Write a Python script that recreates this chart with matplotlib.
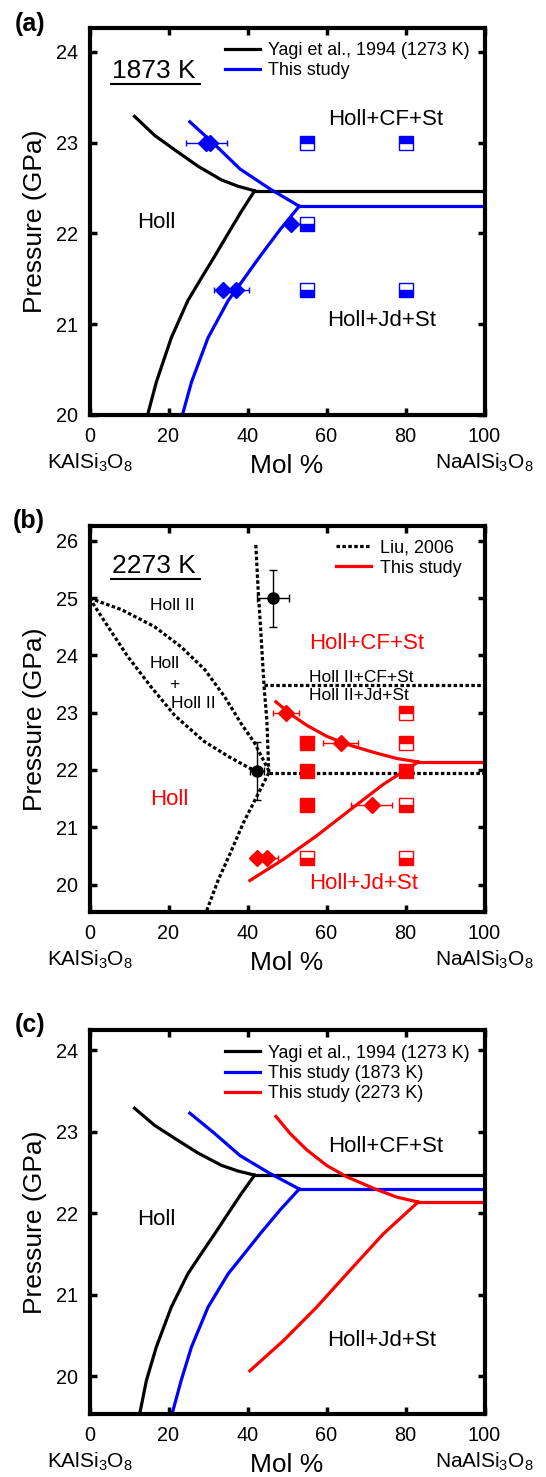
import matplotlib
matplotlib.use('Agg')
import matplotlib.pyplot as plt

plt.rcParams['font.family'] = ['Liberation Sans', 'DejaVu Sans']
plt.rcParams['mathtext.fontset'] = 'custom'
plt.rcParams['mathtext.rm'] = 'Liberation Sans'
plt.rcParams['mathtext.it'] = 'Liberation Sans:italic'

BLUE = '#0000ff'
RED = '#ff0000'

# Yagi et al., 1994 (1273 K)
yagi_up_x = [11.4, 16.5, 21.6, 27.5, 33.4, 37.6, 41.8]
yagi_up_p = [23.29, 23.08, 22.92, 22.74, 22.59, 22.52, 22.47]
yagi_flat_x = [41.8, 100]
yagi_flat_p = [22.47, 22.47]
yagi_lo_x = [41.8, 38.4, 35.1, 31.7, 28.2, 24.9, 20.7, 16.9, 14.4, 12.7]
yagi_lo_p = [22.47, 22.24, 22.0, 21.75, 21.5, 21.26, 20.85, 20.36, 19.95, 19.54]

# this study, 1873 K
b_up_x = [25.4, 31.7, 38.1, 45.7, 53.1]
b_up_p = [23.23, 22.98, 22.71, 22.49, 22.30]
b_flat_x = [53.1, 100]
b_flat_p = [22.30, 22.30]
b_lo_x = [53.1, 48.2, 43.2, 38.1, 35.1, 30.0, 25.8, 23.2, 20.9]
b_lo_p = [22.30, 22.04, 21.75, 21.44, 21.26, 20.85, 20.36, 19.95, 19.54]

# this study, 2273 K
r_up_x = [47.2, 50.8, 55, 60, 65.1, 71.8, 77.8, 83.2]
r_up_p = [23.19, 22.98, 22.78, 22.59, 22.45, 22.31, 22.20, 22.14]
r_flat_x = [83.2, 100]
r_flat_p = [22.14, 22.14]
r_lo_x = [83.2, 74.4, 65.9, 57.5, 49.1, 40.6]
r_lo_p = [22.14, 21.75, 21.30, 20.85, 20.44, 20.07]

# Liu, 2006
liu_lens_up_x = [0, 8.1, 16.5, 23.2, 29.2, 34.2, 38.4, 41.8, 44.4, 45.3]
liu_lens_up_p = [25.0, 24.80, 24.50, 24.15, 23.75, 23.28, 22.81, 22.47, 22.12, 22.0]
liu_lens_lo_x = [0, 4.7, 9.7, 15.6, 21.6, 29, 35.3, 40.6, 42.5]
liu_lens_lo_p = [25.0, 24.5, 23.98, 23.45, 22.95, 22.5, 22.23, 22.03, 22.0]
liu_vert_x = [42.1, 42.7, 43.5, 44.2, 44.9, 45.4]
liu_vert_p = [25.93, 25.15, 24.27, 23.45, 22.87, 21.95]
liu_h1_x = [44.2, 100]
liu_h1_p = [23.48, 23.48]
liu_h2_x = [45.4, 100]
liu_h2_p = [21.95, 21.95]
liu_lo_x = [45.4, 42.3, 38.9, 35.6, 32.6, 29.7]
liu_lo_p = [21.95, 21.53, 21.07, 20.54, 20.08, 19.55]

# panel (a) experiments
a_dia_x = [29.6, 30.6, 51.1, 33.8, 37.2]
a_dia_p = [23.0, 23.0, 22.1, 21.38, 21.38]
a_dia_err = [5.1, 0, 0, 2.3, 3.1]
a_sq_top_x = [55, 80]
a_sq_top_p = [23.0, 23.0]
a_sq_bot_x = [55, 55, 80]
a_sq_bot_p = [22.1, 21.38, 21.38]

# panel (b) experiments
b_dia_x = [49.7, 63.6, 71.4, 42.5, 44.9]
b_dia_p = [23.0, 22.47, 21.39, 20.47, 20.47]
b_dia_err = [3.3, 4.4, 5.1, 1.6, 2.9]
b_sq_full_x = [55, 55, 55, 80]
b_sq_full_p = [22.47, 21.98, 21.39, 21.98]
b_sq_top_x = [80, 80]
b_sq_top_p = [23.0, 22.47]
b_sq_bot_x = [80, 55, 80]
b_sq_bot_p = [21.39, 20.47, 20.47]
liu_pt_x = [46.4, 42.5]
liu_pt_p = [25.0, 21.98]
liu_pt_xerr = [4, 1.8]
liu_pt_yerr = [0.5, 0.5]

LW = 2.3
DOT = (0, (1.1, 0.75))


def style_axes(ax, ylim, yticks):
    ax.set_xlim(0, 100)
    ax.set_ylim(*ylim)
    ax.set_xticks([0, 20, 40, 60, 80, 100])
    ax.set_yticks(yticks)
    ax.tick_params(direction='in', top=True, right=True, length=5, width=2.5,
                   labelsize=14.3, pad=8.5)
    for s in ax.spines.values():
        s.set_linewidth(3)
    ax.set_ylabel('Pressure (GPa)', fontsize=19, labelpad=6)
    ax.set_xlabel('Mol %', fontsize=19, labelpad=6)
    tr = ax.get_xaxis_transform()
    ax.text(0, -0.125, 'KAlSi$_3$O$_8$', transform=tr, ha='center', va='center', fontsize=15)
    ax.text(100, -0.125, 'NaAlSi$_3$O$_8$', transform=tr, ha='center', va='center', fontsize=15)


def half_squares(ax, x, p, color, fill):
    ax.plot(x, p, 's', ms=9.5, fillstyle=fill, mfc=color, mfcalt='white',
            mec=color, mew=1, zorder=4)


def diamonds(ax, x, p, err, color):
    ax.errorbar(x, p, xerr=err, fmt='D', ms=8, color=color, mec=color,
                elinewidth=1, capsize=2.5, capthick=1, zorder=5)


def temp_label(ax, s, y):
    ax.text(0.057, y, s, transform=ax.transAxes, fontsize=19, va='center', ha='left')
    ax.plot([0.055, 0.28], [y - 0.035, y - 0.035], transform=ax.transAxes,
            color='black', lw=1.5)


def legend(ax, x, y):
    ax.legend(loc='upper left', bbox_to_anchor=(x, y), frameon=False,
              fontsize=12.9, handlelength=1.95, handletextpad=0.5, labelspacing=0.18,
              borderpad=0, borderaxespad=0)


fig = plt.figure(figsize=(5.46, 14.77), dpi=100)
L = 89.5 / 546
W = 395 / 546
ax_a = fig.add_axes([L, 1 - 415 / 1477, W, 386.7 / 1477])
ax_b = fig.add_axes([L, 1 - 912 / 1477, W, 386 / 1477])
ax_c = fig.add_axes([L, 1 - 1414 / 1477, W, 384 / 1477])

# ---------------- (a)
ax = ax_a
ax.plot(yagi_up_x, yagi_up_p, color='black', lw=LW, label='Yagi et al., 1994 (1273 K)')
ax.plot(yagi_flat_x, yagi_flat_p, color='black', lw=LW)
ax.plot(yagi_lo_x, yagi_lo_p, color='black', lw=LW)
ax.plot(b_up_x, b_up_p, color=BLUE, lw=LW, label='This study')
ax.plot(b_flat_x, b_flat_p, color=BLUE, lw=LW)
ax.plot(b_lo_x, b_lo_p, color=BLUE, lw=LW)
half_squares(ax, a_sq_top_x, a_sq_top_p, BLUE, 'top')
half_squares(ax, a_sq_bot_x, a_sq_bot_p, BLUE, 'bottom')
diamonds(ax, a_dia_x, a_dia_p, a_dia_err, BLUE)
style_axes(ax, (20, 24.26), [20, 21, 22, 23, 24])
temp_label(ax, '1873 K', 0.89)
ax.text(75, 23.25, 'Holl+CF+St', fontsize=16, ha='center', va='center')
ax.text(17, 22.12, 'Holl', fontsize=16, ha='center', va='center')
ax.text(74, 21.04, 'Holl+Jd+St', fontsize=16, ha='center', va='center')
legend(ax, 0.342, 0.965)

# ---------------- (b)
ax = ax_b
ax.plot(liu_lens_up_x, liu_lens_up_p, color='black', lw=LW, ls=DOT, label='Liu, 2006')
for xs, ps in [(liu_lens_lo_x, liu_lens_lo_p), (liu_vert_x, liu_vert_p),
               (liu_h1_x, liu_h1_p), (liu_h2_x, liu_h2_p), (liu_lo_x, liu_lo_p)]:
    ax.plot(xs, ps, color='black', lw=LW, ls=DOT)
ax.plot(r_up_x, r_up_p, color=RED, lw=LW, label='This study')
ax.plot(r_flat_x, r_flat_p, color=RED, lw=LW)
ax.plot(r_lo_x, r_lo_p, color=RED, lw=LW)
ax.plot(b_sq_full_x, b_sq_full_p, 's', ms=9.5, color=RED, zorder=4)
half_squares(ax, b_sq_top_x, b_sq_top_p, RED, 'top')
half_squares(ax, b_sq_bot_x, b_sq_bot_p, RED, 'bottom')
diamonds(ax, b_dia_x, b_dia_p, b_dia_err, RED)
ax.errorbar(liu_pt_x, liu_pt_p, xerr=liu_pt_xerr, yerr=liu_pt_yerr, fmt='o', ms=8,
            color='black', elinewidth=1, capsize=3, capthick=1, zorder=5)
style_axes(ax, (19.52, 26.26), [20, 21, 22, 23, 24, 25, 26])
temp_label(ax, '2273 K', 0.897)
ax.text(20.9, 24.88, 'Holl II', fontsize=12.5, ha='center', va='center')
ax.text(19, 23.86, 'Holl', fontsize=12.5, ha='center', va='center')
ax.text(21.5, 23.5, '+', fontsize=12.5, ha='center', va='center')
ax.text(26.2, 23.16, 'Holl II', fontsize=12.5, ha='center', va='center')
ax.text(55.5, 23.61, 'Holl II+CF+St', fontsize=12.5, ha='left', va='center')
ax.text(55.5, 23.3, 'Holl II+Jd+St', fontsize=12.5, ha='left', va='center')
ax.text(70.3, 24.21, 'Holl+CF+St', fontsize=16, color=RED, ha='center', va='center')
ax.text(20.3, 21.49, 'Holl', fontsize=16, color=RED, ha='center', va='center')
ax.text(69.4, 20.02, 'Holl+Jd+St', fontsize=16, color=RED, ha='center', va='center')
legend(ax, 0.624, 0.965)

# ---------------- (c)
ax = ax_c
ax.plot(yagi_up_x, yagi_up_p, color='black', lw=LW, label='Yagi et al., 1994 (1273 K)')
ax.plot(yagi_flat_x, yagi_flat_p, color='black', lw=LW)
ax.plot(yagi_lo_x, yagi_lo_p, color='black', lw=LW)
ax.plot(b_up_x, b_up_p, color=BLUE, lw=LW, label='This study (1873 K)')
ax.plot(b_flat_x, b_flat_p, color=BLUE, lw=LW)
ax.plot(b_lo_x, b_lo_p, color=BLUE, lw=LW)
ax.plot(r_up_x, r_up_p, color=RED, lw=LW, label='This study (2273 K)')
ax.plot(r_flat_x, r_flat_p, color=RED, lw=LW)
ax.plot(r_lo_x, r_lo_p, color=RED, lw=LW)
style_axes(ax, (19.54, 24.25), [20, 21, 22, 23, 24])
ax.text(75, 22.82, 'Holl+CF+St', fontsize=16, ha='center', va='center')
ax.text(17, 21.92, 'Holl', fontsize=16, ha='center', va='center')
ax.text(74, 20.44, 'Holl+Jd+St', fontsize=16, ha='center', va='center')
legend(ax, 0.342, 0.962)

fig.text(15 / 546, 1 - 24 / 1477, '(a)', fontsize=18, fontweight='bold', va='center')
fig.text(13 / 546, 1 - 521 / 1477, '(b)', fontsize=18, fontweight='bold', va='center')
fig.text(15 / 546, 1 - 1025 / 1477, '(c)', fontsize=18, fontweight='bold', va='center')

fig.savefig('out.png', dpi=100)
